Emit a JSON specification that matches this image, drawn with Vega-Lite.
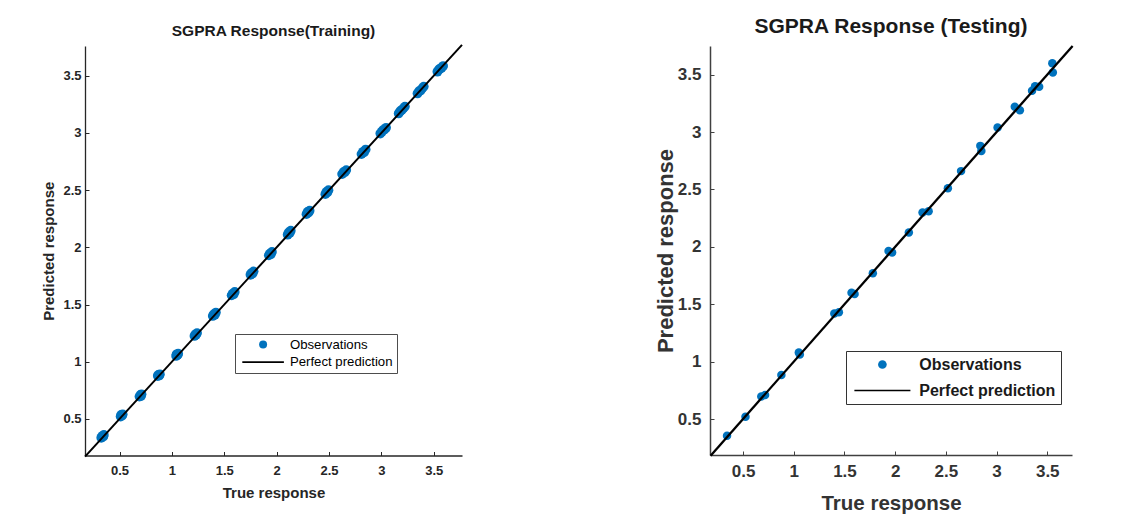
{
  "$schema": "https://vega.github.io/schema/vega-lite/v6.json",
  "padding": {"left": 41, "top": 16, "right": 0, "bottom": 0},
  "background": "white",
  "bounds": "flush",
  "spacing": 248,
  "config": {
    "view": {"stroke": null},
    "axis": {"grid": false, "labelFlush": false, "labelOverlap": false, "ticks": true}
  },
  "datasets": {
    "train": [
      {"actual": 0.325, "predicted": 0.335, "series": "Observations"},
      {"actual": 0.335, "predicted": 0.35, "series": "Observations"},
      {"actual": 0.345, "predicted": 0.345, "series": "Observations"},
      {"actual": 0.35, "predicted": 0.36, "series": "Observations"},
      {"actual": 0.51, "predicted": 0.52, "series": "Observations"},
      {"actual": 0.515, "predicted": 0.535, "series": "Observations"},
      {"actual": 0.525, "predicted": 0.53, "series": "Observations"},
      {"actual": 0.53, "predicted": 0.54, "series": "Observations"},
      {"actual": 0.69, "predicted": 0.695, "series": "Observations"},
      {"actual": 0.7, "predicted": 0.71, "series": "Observations"},
      {"actual": 0.705, "predicted": 0.7, "series": "Observations"},
      {"actual": 0.71, "predicted": 0.715, "series": "Observations"},
      {"actual": 0.865, "predicted": 0.875, "series": "Observations"},
      {"actual": 0.87, "predicted": 0.885, "series": "Observations"},
      {"actual": 0.88, "predicted": 0.88, "series": "Observations"},
      {"actual": 0.885, "predicted": 0.89, "series": "Observations"},
      {"actual": 1.04, "predicted": 1.05, "series": "Observations"},
      {"actual": 1.045, "predicted": 1.065, "series": "Observations"},
      {"actual": 1.055, "predicted": 1.06, "series": "Observations"},
      {"actual": 1.06, "predicted": 1.07, "series": "Observations"},
      {"actual": 1.215, "predicted": 1.225, "series": "Observations"},
      {"actual": 1.225, "predicted": 1.24, "series": "Observations"},
      {"actual": 1.23, "predicted": 1.235, "series": "Observations"},
      {"actual": 1.24, "predicted": 1.25, "series": "Observations"},
      {"actual": 1.39, "predicted": 1.4, "series": "Observations"},
      {"actual": 1.4, "predicted": 1.415, "series": "Observations"},
      {"actual": 1.41, "predicted": 1.41, "series": "Observations"},
      {"actual": 1.42, "predicted": 1.43, "series": "Observations"},
      {"actual": 1.57, "predicted": 1.58, "series": "Observations"},
      {"actual": 1.58, "predicted": 1.595, "series": "Observations"},
      {"actual": 1.59, "predicted": 1.59, "series": "Observations"},
      {"actual": 1.6, "predicted": 1.61, "series": "Observations"},
      {"actual": 1.75, "predicted": 1.76, "series": "Observations"},
      {"actual": 1.76, "predicted": 1.775, "series": "Observations"},
      {"actual": 1.77, "predicted": 1.77, "series": "Observations"},
      {"actual": 1.78, "predicted": 1.79, "series": "Observations"},
      {"actual": 1.925, "predicted": 1.93, "series": "Observations"},
      {"actual": 1.935, "predicted": 1.945, "series": "Observations"},
      {"actual": 1.945, "predicted": 1.94, "series": "Observations"},
      {"actual": 1.955, "predicted": 1.96, "series": "Observations"},
      {"actual": 2.105, "predicted": 2.11, "series": "Observations"},
      {"actual": 2.115, "predicted": 2.13, "series": "Observations"},
      {"actual": 2.125, "predicted": 2.125, "series": "Observations"},
      {"actual": 2.135, "predicted": 2.145, "series": "Observations"},
      {"actual": 2.285, "predicted": 2.29, "series": "Observations"},
      {"actual": 2.295, "predicted": 2.31, "series": "Observations"},
      {"actual": 2.305, "predicted": 2.305, "series": "Observations"},
      {"actual": 2.315, "predicted": 2.32, "series": "Observations"},
      {"actual": 2.465, "predicted": 2.465, "series": "Observations"},
      {"actual": 2.475, "predicted": 2.485, "series": "Observations"},
      {"actual": 2.485, "predicted": 2.48, "series": "Observations"},
      {"actual": 2.495, "predicted": 2.5, "series": "Observations"},
      {"actual": 2.625, "predicted": 2.64, "series": "Observations"},
      {"actual": 2.64, "predicted": 2.66, "series": "Observations"},
      {"actual": 2.65, "predicted": 2.655, "series": "Observations"},
      {"actual": 2.665, "predicted": 2.675, "series": "Observations"},
      {"actual": 2.81, "predicted": 2.815, "series": "Observations"},
      {"actual": 2.825, "predicted": 2.835, "series": "Observations"},
      {"actual": 2.835, "predicted": 2.83, "series": "Observations"},
      {"actual": 2.85, "predicted": 2.855, "series": "Observations"},
      {"actual": 2.99, "predicted": 2.995, "series": "Observations"},
      {"actual": 3.005, "predicted": 3.01, "series": "Observations"},
      {"actual": 3.015, "predicted": 3.025, "series": "Observations"},
      {"actual": 3.03, "predicted": 3.03, "series": "Observations"},
      {"actual": 3.045, "predicted": 3.045, "series": "Observations"},
      {"actual": 3.165, "predicted": 3.17, "series": "Observations"},
      {"actual": 3.18, "predicted": 3.19, "series": "Observations"},
      {"actual": 3.195, "predicted": 3.2, "series": "Observations"},
      {"actual": 3.21, "predicted": 3.215, "series": "Observations"},
      {"actual": 3.225, "predicted": 3.23, "series": "Observations"},
      {"actual": 3.345, "predicted": 3.345, "series": "Observations"},
      {"actual": 3.36, "predicted": 3.365, "series": "Observations"},
      {"actual": 3.375, "predicted": 3.37, "series": "Observations"},
      {"actual": 3.39, "predicted": 3.39, "series": "Observations"},
      {"actual": 3.405, "predicted": 3.405, "series": "Observations"},
      {"actual": 3.535, "predicted": 3.535, "series": "Observations"},
      {"actual": 3.55, "predicted": 3.555, "series": "Observations"},
      {"actual": 3.56, "predicted": 3.56, "series": "Observations"},
      {"actual": 3.575, "predicted": 3.57, "series": "Observations"},
      {"actual": 3.59, "predicted": 3.585, "series": "Observations"}
    ],
    "test": [
      {"actual": 0.342, "predicted": 0.355, "series": "Observations"},
      {"actual": 0.524, "predicted": 0.52, "series": "Observations"},
      {"actual": 0.68, "predicted": 0.697, "series": "Observations"},
      {"actual": 0.717, "predicted": 0.709, "series": "Observations"},
      {"actual": 0.878, "predicted": 0.883, "series": "Observations"},
      {"actual": 1.05, "predicted": 1.08, "series": "Observations"},
      {"actual": 1.06, "predicted": 1.062, "series": "Observations"},
      {"actual": 1.4, "predicted": 1.42, "series": "Observations"},
      {"actual": 1.445, "predicted": 1.43, "series": "Observations"},
      {"actual": 1.57, "predicted": 1.6, "series": "Observations"},
      {"actual": 1.6, "predicted": 1.59, "series": "Observations"},
      {"actual": 1.78, "predicted": 1.77, "series": "Observations"},
      {"actual": 1.935, "predicted": 1.965, "series": "Observations"},
      {"actual": 1.97, "predicted": 1.95, "series": "Observations"},
      {"actual": 2.135, "predicted": 2.125, "series": "Observations"},
      {"actual": 2.27, "predicted": 2.3, "series": "Observations"},
      {"actual": 2.33, "predicted": 2.31, "series": "Observations"},
      {"actual": 2.52, "predicted": 2.51, "series": "Observations"},
      {"actual": 2.65, "predicted": 2.66, "series": "Observations"},
      {"actual": 2.84, "predicted": 2.88, "series": "Observations"},
      {"actual": 2.85, "predicted": 2.835, "series": "Observations"},
      {"actual": 3.01, "predicted": 3.04, "series": "Observations"},
      {"actual": 3.18, "predicted": 3.22, "series": "Observations"},
      {"actual": 3.23, "predicted": 3.19, "series": "Observations"},
      {"actual": 3.35, "predicted": 3.36, "series": "Observations"},
      {"actual": 3.38, "predicted": 3.4, "series": "Observations"},
      {"actual": 3.42, "predicted": 3.395, "series": "Observations"},
      {"actual": 3.55, "predicted": 3.6, "series": "Observations"},
      {"actual": 3.555, "predicted": 3.52, "series": "Observations"}
    ],
    "line_train": [
      {"actual": 0.17, "predicted": 0.17, "series": "Perfect prediction"},
      {"actual": 3.77, "predicted": 3.77, "series": "Perfect prediction"}
    ],
    "line_test": [
      {"actual": 0.18, "predicted": 0.18, "series": "Perfect prediction"},
      {"actual": 3.75, "predicted": 3.75, "series": "Perfect prediction"}
    ]
  },
  "resolve": {
    "scale": {"x": "independent", "y": "independent", "color": "independent", "shape": "independent"},
    "legend": {"color": "independent", "shape": "independent"}
  },
  "hconcat": [
    {
      "width": 377,
      "height": 409.5,
      "title": {"text": "SGPRA Response(Training)", "font": "Liberation Sans", "fontSize": 15.5, "fontWeight": "bold", "color": "#1a1a1a", "offset": 1},
      "layer": [
        {
          "data": {"name": "train"},
          "mark": {"type": "point", "filled": true, "size": 95, "opacity": 1, "strokeWidth": 0},
          "encoding": {
            "x": {"field": "actual", "type": "quantitative", "scale": {"domain": [0.17, 3.77], "nice": false, "zero": false},
              "axis": {"title": "True response", "values": [0.5, 1, 1.5, 2, 2.5, 3, 3.5], "format": "~g", "tickSize": -4, "tickColor": "#262626", "tickWidth": 1, "domainColor": "#262626", "domainWidth": 1.3, "labelPadding": 13, "labelFont": "Liberation Sans", "labelFontSize": 13, "labelFontWeight": "bold", "labelColor": "#262626", "titleFont": "Liberation Sans", "titleFontSize": 15, "titleFontWeight": "bold", "titleColor": "#262626", "titlePadding": 8}},
            "y": {"field": "predicted", "type": "quantitative", "scale": {"domain": [0.18, 3.76], "nice": false, "zero": false},
              "axis": {"title": "Predicted response", "values": [0.5, 1, 1.5, 2, 2.5, 3, 3.5], "format": "~g", "tickSize": -4, "tickColor": "#262626", "tickWidth": 1, "domainColor": "#262626", "domainWidth": 1.3, "labelPadding": 8, "labelFont": "Liberation Sans", "labelFontSize": 13, "labelFontWeight": "bold", "labelColor": "#262626", "titleFont": "Liberation Sans", "titleFontSize": 15, "titleFontWeight": "bold", "titleColor": "#262626", "titlePadding": 6}},
            "color": {"field": "series", "type": "nominal", "scale": {"domain": ["Observations", "Perfect prediction"], "range": ["#0072BD", "#000000"]},
              "legend": {"title": null, "orient": "none", "legendX": 150, "legendY": 288, "strokeColor": "#4d4d4d", "fillColor": "white", "padding": 4, "symbolSize": 64, "symbolStrokeWidth": 0, "symbolOffset": 17.5, "labelOffset": 20.2, "labelFont": "Liberation Sans", "labelFontSize": 13.2, "labelColor": "#000000", "rowPadding": 3.5}},
            "shape": {"field": "series", "type": "nominal", "scale": {"domain": ["Observations", "Perfect prediction"], "range": ["circle", "M-5.2,-0.2H5.2V0.2H-5.2Z"]},
              "legend": {"title": null, "orient": "none", "legendX": 150, "legendY": 288, "strokeColor": "#4d4d4d", "fillColor": "white", "padding": 4, "symbolSize": 64, "symbolStrokeWidth": 0, "symbolOffset": 17.5, "labelOffset": 20.2, "labelFont": "Liberation Sans", "labelFontSize": 13.2, "labelColor": "#000000", "rowPadding": 3.5}}
          }
        },
        {
          "data": {"name": "line_train"},
          "mark": {"type": "line", "strokeWidth": 2},
          "encoding": {
            "x": {"field": "actual", "type": "quantitative"},
            "y": {"field": "predicted", "type": "quantitative"},
            "color": {"field": "series", "type": "nominal"}
          }
        }
      ]
    },
    {
      "width": 362,
      "height": 409,
      "title": {"text": "SGPRA Response (Testing)", "font": "Liberation Sans", "fontSize": 21, "fontWeight": "bold", "color": "#1a1a1a", "offset": 4},
      "layer": [
        {
          "data": {"name": "test"},
          "mark": {"type": "point", "filled": true, "size": 72, "opacity": 1, "strokeWidth": 0},
          "encoding": {
            "x": {"field": "actual", "type": "quantitative", "scale": {"domain": [0.174, 3.744], "nice": false, "zero": false},
              "axis": {"title": "True response", "values": [0.5, 1, 1.5, 2, 2.5, 3, 3.5], "format": "~g", "tickSize": -4, "tickColor": "#404040", "tickWidth": 1, "domainColor": "#404040", "domainWidth": 1.5, "labelPadding": 12, "labelFont": "Liberation Sans", "labelFontSize": 17, "labelFontWeight": "bold", "labelColor": "#333333", "titleFont": "Liberation Sans", "titleFontSize": 20.5, "titleFontWeight": "bold", "titleColor": "#333333", "titlePadding": 14}},
            "y": {"field": "predicted", "type": "quantitative", "scale": {"domain": [0.187, 3.75], "nice": false, "zero": false},
              "axis": {"title": "Predicted response", "values": [0.5, 1, 1.5, 2, 2.5, 3, 3.5], "format": "~g", "tickSize": -4, "tickColor": "#404040", "tickWidth": 1, "domainColor": "#404040", "domainWidth": 1.5, "labelPadding": 13, "labelFont": "Liberation Sans", "labelFontSize": 17, "labelFontWeight": "bold", "labelColor": "#333333", "titleFont": "Liberation Sans", "titleFontSize": 22, "titleFontWeight": "bold", "titleColor": "#333333", "titlePadding": 0}},
            "color": {"field": "series", "type": "nominal", "scale": {"domain": ["Observations", "Perfect prediction"], "range": ["#0072BD", "#000000"]},
              "legend": {"title": null, "orient": "none", "legendX": 136, "legendY": 305, "strokeColor": "#333333", "fillColor": "white", "padding": 5.5, "symbolSize": 75, "symbolStrokeWidth": 0, "symbolOffset": 22.9, "labelOffset": 28.9, "labelFont": "Liberation Sans", "labelFontSize": 16, "labelFontWeight": "bold", "labelColor": "#1a1a1a", "rowPadding": 10}},
            "shape": {"field": "series", "type": "nominal", "scale": {"domain": ["Observations", "Perfect prediction"], "range": ["circle", "M-6.47,-0.17H6.47V0.17H-6.47Z"]},
              "legend": {"title": null, "orient": "none", "legendX": 136, "legendY": 305, "strokeColor": "#333333", "fillColor": "white", "padding": 5.5, "symbolSize": 75, "symbolStrokeWidth": 0, "symbolOffset": 22.9, "labelOffset": 28.9, "labelFont": "Liberation Sans", "labelFontSize": 16, "labelFontWeight": "bold", "labelColor": "#1a1a1a", "rowPadding": 10}}
          }
        },
        {
          "data": {"name": "line_test"},
          "mark": {"type": "line", "strokeWidth": 2.3},
          "encoding": {
            "x": {"field": "actual", "type": "quantitative"},
            "y": {"field": "predicted", "type": "quantitative"},
            "color": {"field": "series", "type": "nominal"}
          }
        }
      ]
    }
  ]
}
